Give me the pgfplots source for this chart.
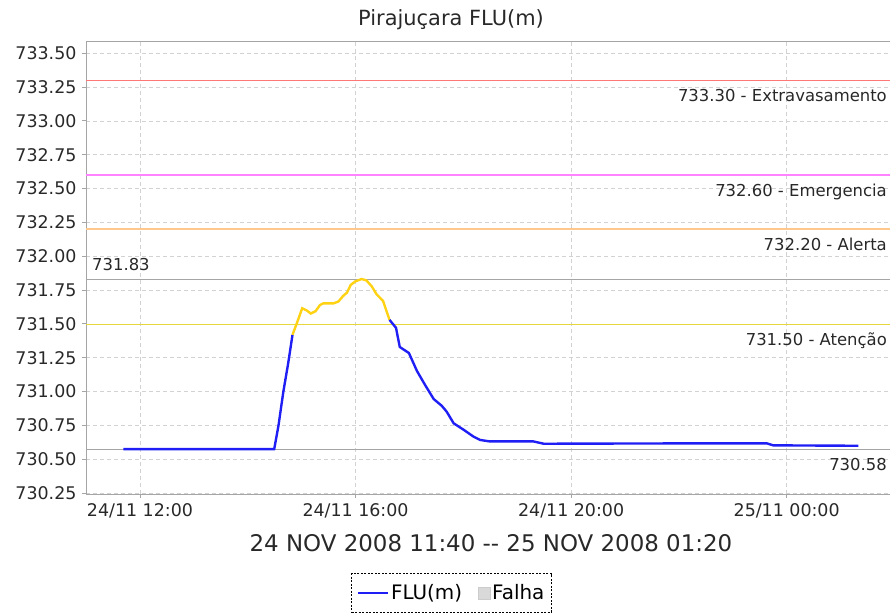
\documentclass[border=0pt]{standalone}
\usepackage{pgfplots}
\pgfplotsset{compat=1.18}
\usepackage{fontspec}
\setmainfont{DejaVu Sans}
\definecolor{lred}{RGB}{255,120,120}
\definecolor{lmag}{RGB}{255,130,255}
\definecolor{lora}{RGB}{255,200,140}
\definecolor{lgray}{RGB}{165,165,165}
\definecolor{lyel}{RGB}{230,215,60}
\definecolor{sblue}{RGB}{30,30,245}
\definecolor{syel}{RGB}{255,210,20}
\definecolor{txt}{RGB}{40,40,40}
\pgfplotsset{flulegend/.style={legend image code/.code={\draw[##1] (0bp,0bp) -- (30bp,0bp);}}}
\begin{document}
\begin{tikzpicture}
\useasboundingbox (0,0) rectangle (890bp,614bp);
\begin{axis}[
  at={(86bp,120bp)}, anchor=south west,
  width=804bp, height=452bp, scale only axis,
  xmin=10.998, xmax=25.917,
  ymin=730.2436, ymax=733.583,
  xtick={12,16,20,24},
  xticklabels={24/11 12:00,24/11 16:00,24/11 20:00,25/11 00:00},
  ytick={730.25,730.5,730.75,731,731.25,731.5,731.75,732,732.25,732.5,732.75,733,733.25,733.5},
  yticklabels={730.25,730.50,730.75,731.00,731.25,731.50,731.75,732.00,732.25,732.50,732.75,733.00,733.25,733.50},
  xtick pos=bottom, ytick pos=left,
  tick align=outside, major tick length=4bp,
  tick style={lgray, line width=1pt},
  axis line style={lgray, line width=1pt},
  grid=major,
  major grid style={gray!35, line width=0.6pt, dash pattern=on 4bp off 3bp},
  ticklabel style={font=\fontsize{17.5}{20}\selectfont, text=txt},
  xticklabel style={yshift=-2bp},
  yticklabel style={xshift=-2bp},
  legend columns=2,
  legend style={at={(0.4546,-0.219)}, anchor=center, draw=black, dash pattern=on 2bp off 1.5bp,
    font=\fontsize{20}{22}\selectfont, inner xsep=5bp, inner ysep=9bp,
    /tikz/every even column/.append style={column sep=14bp}},
  legend image post style={solid},
  clip=true,
]
% threshold lines
\addplot[lred, line width=1.6pt, forget plot] coordinates {(10.998,733.3) (25.917,733.3)};
\addplot[lmag, line width=1.6pt, forget plot] coordinates {(10.998,732.6) (25.917,732.6)};
\addplot[lora, line width=1.4pt, forget plot] coordinates {(10.998,732.2) (25.917,732.2)};
\addplot[lgray, line width=1.2pt, forget plot] coordinates {(10.998,731.83) (25.917,731.83)};
\addplot[lyel, line width=0.8pt, forget plot] coordinates {(10.998,731.5) (25.917,731.5)};
\addplot[lgray, line width=1.2pt, forget plot] coordinates {(10.998,730.575) (25.917,730.575)};
% series
\addplot[sblue, solid, line width=2.4pt, flulegend] coordinates {
(11.69,730.575) (12.5,730.575) (13.5,730.575) (14.49,730.575)
(14.57,730.75) (14.66,731.00) (14.75,731.21) (14.83,731.42)};
\addlegendentry{FLU(m)}
\addlegendimage{only marks, solid, mark=square*, mark size=6bp, draw=gray!40, fill=gray!30}
\addlegendentry{Falha}
\addplot[syel, solid, line width=2.4pt, forget plot] coordinates {
(14.83,731.42) (14.91,731.505) (15.01,731.616) (15.10,731.598) (15.17,731.577)
(15.26,731.595) (15.34,731.640) (15.40,731.652) (15.59,731.652) (15.68,731.665)
(15.77,731.707) (15.84,731.731) (15.91,731.788) (15.99,731.813) (16.11,731.832)
(16.20,731.822) (16.30,731.778) (16.39,731.719) (16.51,731.67) (16.63,731.530)};
\addplot[sblue, solid, line width=2.4pt, forget plot] coordinates {
(16.63,731.530) (16.75,731.472) (16.82,731.330) (16.99,731.285) (17.14,731.152)
(17.29,731.049) (17.45,730.945) (17.60,730.895) (17.69,730.852) (17.82,730.766)
(18.01,730.717) (18.19,730.667) (18.31,730.643) (18.49,730.632) (19.30,730.632)
(19.49,730.615) (21.5,730.617) (23.63,730.618) (23.75,730.603) (25.33,730.600)};
% labels
\node[anchor=north east, font=\fontsize{16.5}{18}\selectfont, text=txt, inner sep=0pt] at (axis cs:25.917,733.3) [xshift=-3bp, yshift=-9bp] {733.30 - Extravasamento};
\node[anchor=north east, font=\fontsize{16.5}{18}\selectfont, text=txt, inner sep=0pt] at (axis cs:25.917,732.6) [xshift=-3bp, yshift=-9bp] {732.60 - Emergencia};
\node[anchor=north east, font=\fontsize{16.5}{18}\selectfont, text=txt, inner sep=0pt] at (axis cs:25.917,732.2) [xshift=-3bp, yshift=-9bp] {732.20 - Alerta};
\node[anchor=north east, font=\fontsize{16.5}{18}\selectfont, text=txt, inner sep=0pt] at (axis cs:25.917,731.5) [xshift=-3bp, yshift=-9bp] {731.50 - Atenção};
\node[anchor=south west, font=\fontsize{16.5}{18}\selectfont, text=txt, inner sep=0pt] at (axis cs:10.998,731.83) [xshift=6bp, yshift=8bp] {731.83};
\node[anchor=north east, font=\fontsize{16.5}{18}\selectfont, text=txt, inner sep=0pt] at (axis cs:25.917,730.575) [xshift=-3bp, yshift=-9bp] {730.58};
\end{axis}
\node[font=\fontsize{21}{24}\selectfont, text=txt] at (451bp,594bp) {Pirajuçara FLU(m)};
\node[font=\fontsize{23}{26}\selectfont, text=txt] at (491bp,71bp) {24 NOV 2008 11:40 -{}- 25 NOV 2008 01:20};
\end{tikzpicture}
\end{document}
